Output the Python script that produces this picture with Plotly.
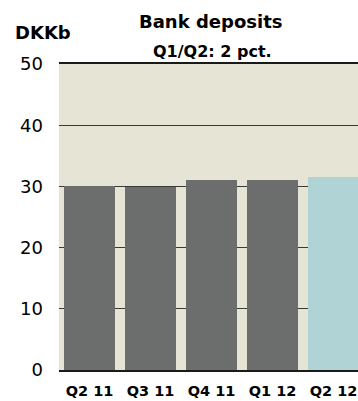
import plotly.graph_objects as go

categories = ["Q2 11", "Q3 11", "Q4 11", "Q1 12", "Q2 12"]
deposits = [30.1, 29.9, 31.0, 31.0, 31.5]
bar_colors = ["#6C6D6D", "#6C6D6D", "#6C6D6D", "#6C6D6D", "#B0D4D5"]
y_ticks = [0, 10, 20, 30, 40, 50]

FONT = "DejaVu Sans"

fig = go.Figure()
fig.add_trace(go.Bar(
    x=list(range(len(categories))),
    y=deposits,
    marker=dict(color=bar_colors, line=dict(width=0)),
    width=0.836,
))

W, H = 358, 401
L, R, T, B = 59, 0, 64, 31
pw, ph = W - L - R, H - T - B

def px(x):
    return (x - L) / pw

def py(y):
    return (H - B - y) / ph

fig.update_layout(
    template="none",
    width=W, height=H,
    margin=dict(l=L, r=R, t=T, b=B, pad=0, autoexpand=False),
    paper_bgcolor="white",
    plot_bgcolor="#E6E4D4",
    showlegend=False,
    bargap=0,
    font=dict(family=FONT, color="#000000"),
    xaxis=dict(
        range=[-0.5, -0.5 + pw / 61.0],
        tickmode="array",
        tickvals=list(range(len(categories))),
        ticktext=categories,
        tickfont=dict(size=14.5, family=FONT, weight="bold"),
        showgrid=False, zeroline=False,
        showline=True, mirror=True, linecolor="#1A1A1A", linewidth=1.5,
        ticks="", ticklabelstandoff=7,
        ticklabeloverflow="allow",
        automargin=False,
        fixedrange=True,
    ),
    yaxis=dict(
        range=[0, 50],
        tickmode="array",
        tickvals=y_ticks,
        tickfont=dict(size=18, family=FONT),
        showgrid=True, gridcolor="#3A3A3A", gridwidth=1,
        zeroline=False,
        showline=False, ticks="", ticklabelstandoff=15,
        automargin=False,
        fixedrange=True,
    ),
    annotations=[
        dict(text="<b>Bank deposits</b>", xref="paper", yref="paper",
             x=px(210), y=py(21), xanchor="center", yanchor="middle",
             showarrow=False, font=dict(size=18, family=FONT)),
        dict(text="<b>Q1/Q2: 2 pct.</b>", xref="paper", yref="paper",
             x=px(212), y=py(52), xanchor="center", yanchor="middle",
             showarrow=False, font=dict(size=16, family=FONT)),
        dict(text="<b>DKKb</b>", xref="paper", yref="paper",
             x=px(13), y=py(33), xanchor="left", yanchor="middle",
             showarrow=False, font=dict(size=18, family=FONT)),
    ],
)

fig.write_html("out.html")
